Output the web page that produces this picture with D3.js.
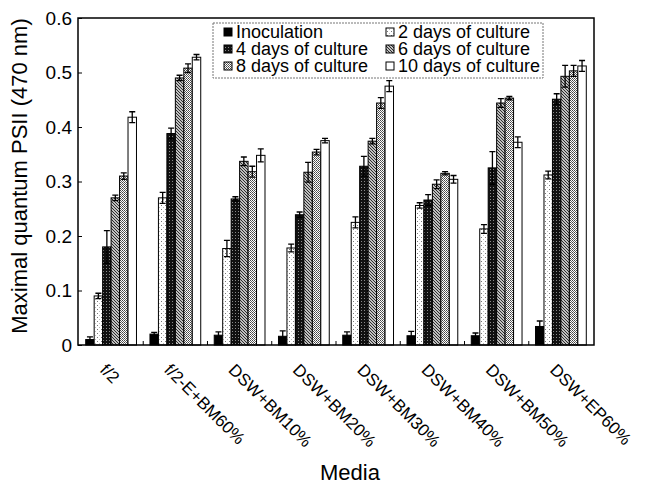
<!DOCTYPE html>
<html>
<head>
<meta charset="utf-8">
<script src="https://cdn.jsdelivr.net/npm/d3@7"></script>
<style>
  html, body { margin: 0; padding: 0; background: #fff; }
  svg { display: block; font-family: "Liberation Sans", Arial, Helvetica, sans-serif; }
</style>
</head>
<body>
<svg id="chart" width="651" height="484"></svg>
<script>
// Culture media (x categories)
const media = ["f/2", "f/2-E+BM60%", "DSW+BM10%", "DSW+BM20%", "DSW+BM30%", "DSW+BM40%", "DSW+BM50%", "DSW+EP60%"];
// Sampling times (series)
const series = ["Inoculation", "2 days of culture", "4 days of culture", "6 days of culture", "8 days of culture", "10 days of culture"];

// Maximal quantum yield of PSII per medium, one array per sampling time
const inoculation = [0.010, 0.020, 0.018, 0.016, 0.018, 0.017, 0.017, 0.034];
const day2        = [0.090, 0.270, 0.177, 0.178, 0.225, 0.256, 0.213, 0.312];
const day4        = [0.180, 0.388, 0.268, 0.239, 0.328, 0.266, 0.325, 0.451];
const day6        = [0.270, 0.490, 0.337, 0.317, 0.374, 0.295, 0.444, 0.493];
const day8        = [0.310, 0.508, 0.318, 0.354, 0.444, 0.315, 0.453, 0.503];
const day10       = [0.418, 0.528, 0.348, 0.375, 0.475, 0.304, 0.372, 0.512];

// Standard deviations
const inoculationErr = [0.005, 0.003, 0.006, 0.010, 0.006, 0.008, 0.005, 0.010];
const day2Err        = [0.005, 0.010, 0.015, 0.007, 0.010, 0.005, 0.008, 0.007];
const day4Err        = [0.030, 0.010, 0.004, 0.005, 0.018, 0.010, 0.030, 0.010];
const day6Err        = [0.005, 0.005, 0.008, 0.018, 0.005, 0.008, 0.008, 0.020];
const day8Err        = [0.006, 0.008, 0.010, 0.005, 0.010, 0.003, 0.003, 0.010];
const day10Err       = [0.010, 0.005, 0.012, 0.004, 0.010, 0.007, 0.010, 0.010];

const yTicks = [0, 0.1, 0.2, 0.3, 0.4, 0.5, 0.6];

const values = [inoculation, day2, day4, day6, day8, day10];
const errors = [inoculationErr, day2Err, day4Err, day6Err, day8Err, day10Err];

const svg = d3.select("#chart");
svg.append("rect").attr("width", 651).attr("height", 484).attr("fill", "#fff");

// ---- fill patterns for the sampling times ----
const defs = svg.append("defs");
function pattern(id, size, build) {
  const p = defs.append("pattern").attr("id", id).attr("patternUnits", "userSpaceOnUse")
    .attr("width", size).attr("height", size);
  build(p);
}
pattern("p-day2", 4, p => {
  p.append("rect").attr("width", 4).attr("height", 4).attr("fill", "#fff");
  p.append("rect").attr("x", 1).attr("y", 1).attr("width", 1).attr("height", 1).attr("fill", "#777");
  p.append("rect").attr("x", 3).attr("y", 3).attr("width", 1).attr("height", 1).attr("fill", "#bbb");
});
pattern("p-day4", 3, p => {
  p.append("rect").attr("width", 3).attr("height", 3).attr("fill", "#111");
  p.append("rect").attr("x", 1).attr("y", 1).attr("width", 1).attr("height", 1).attr("fill", "#8a8a8a");
});
pattern("p-day6", 3, p => {
  p.append("rect").attr("width", 3).attr("height", 3).attr("fill", "#fff");
  p.append("path").attr("d", "M-1,-1 L4,4 M-1,2 L1,4 M2,-1 L4,1").attr("stroke", "#222").attr("stroke-width", 1.1);
});
pattern("p-day8", 2, p => {
  p.append("rect").attr("width", 2).attr("height", 2).attr("fill", "#fff");
  p.append("rect").attr("x", 0).attr("y", 0).attr("width", 1).attr("height", 1).attr("fill", "#444");
  p.append("rect").attr("x", 1).attr("y", 1).attr("width", 1).attr("height", 1).attr("fill", "#666");
});
const fills = ["#000", "url(#p-day2)", "url(#p-day4)", "url(#p-day6)", "url(#p-day8)", "#fff"];

// ---- scales ----
const plot = { left: 78, right: 594, top: 18, bottom: 345 };
const x = d3.scaleBand().domain(media).range([plot.left, plot.right]).paddingInner(0.21).paddingOuter(0.12);
const xs = d3.scaleBand().domain(series).range([0, x.bandwidth()]);
const y = d3.scaleLinear().domain([0, 0.6]).range([plot.bottom, plot.top]);

// ---- bars ----
const rows = [];
media.forEach((m, i) => series.forEach((s, j) => rows.push({ m, s, j, v: values[j][i], e: errors[j][i] })));

svg.append("g").selectAll("rect.bar").data(rows).join("rect")
  .attr("class", "bar")
  .attr("x", d => x(d.m) + xs(d.s))
  .attr("y", d => y(d.v))
  .attr("width", xs.bandwidth())
  .attr("height", d => y(0) - y(d.v))
  .attr("fill", d => fills[d.j])
  .attr("stroke", "#000").attr("stroke-width", 1);

// ---- error bars ----
const eb = svg.append("g").attr("stroke", "#000").attr("stroke-width", 1.3).attr("fill", "none");
const cx = d => x(d.m) + xs(d.s) + xs.bandwidth() / 2;
eb.selectAll("path").data(rows).join("path")
  .attr("d", d => {
    const c = cx(d), t = y(d.v + d.e), b = y(Math.max(d.v - d.e, 0)), w = 3;
    return `M${c},${t}V${b}M${c - w},${t}H${c + w}M${c - w},${b}H${c + w}`;
  });

// ---- frame ----
svg.append("rect").attr("x", plot.left).attr("y", plot.top)
  .attr("width", plot.right - plot.left).attr("height", plot.bottom - plot.top)
  .attr("fill", "none").attr("stroke", "#000").attr("stroke-width", 1.5);

// ---- y axis ----
const yAxis = svg.append("g").attr("transform", `translate(${plot.left},0)`)
  .call(d3.axisLeft(y).tickValues(yTicks).tickSizeInner(-4).tickSizeOuter(0).tickPadding(6)
    .tickFormat(d => d === 0 ? "0" : d3.format(".1f")(d)));
yAxis.select(".domain").remove();
yAxis.selectAll("text").attr("font-size", 19).attr("fill", "#000")
  .attr("font-family", "'Liberation Sans', Arial, sans-serif");

// ---- x axis: separator ticks between media groups, rotated labels ----
const gap = x.step() - x.bandwidth();
svg.append("g").selectAll("line").data(media.slice(1)).join("line")
  .attr("x1", d => x(d) - gap / 2).attr("x2", d => x(d) - gap / 2)
  .attr("y1", plot.bottom).attr("y2", plot.bottom - 4)
  .attr("stroke", "#000").attr("stroke-width", 1);

svg.append("g").selectAll("text").data(media).join("text")
  .attr("transform", d => `translate(${x(d) + x.bandwidth() / 2 - 12},371) rotate(45)`)
  .attr("font-size", 17).attr("fill", "#000")
  .text(d => d);

// ---- axis titles ----
svg.append("text").attr("x", 350).attr("y", 480).attr("text-anchor", "middle")
  .attr("font-size", 22).text("Media");
svg.append("text").attr("transform", "translate(27,176) rotate(-90)").attr("text-anchor", "middle")
  .attr("font-size", 22).text("Maximal quantum PSII (470 nm)");

// ---- legend ----
const lg = svg.append("g");
lg.append("rect").attr("x", 213).attr("y", 23).attr("width", 330).attr("height", 55)
  .attr("fill", "#fff").attr("stroke", "#777").attr("stroke-width", 1).attr("stroke-dasharray", "2,1");
const legendCols = [224, 386];
const legendRows = [38, 55, 72];
series.forEach((s, j) => {
  const col = j % 2, row = Math.floor(j / 2);
  const g = lg.append("g").attr("transform", `translate(${legendCols[col]},${legendRows[row]})`);
  g.append("rect").attr("x", 0).attr("y", -10).attr("width", 8).attr("height", 8)
    .attr("fill", fills[j]).attr("stroke", "#000").attr("stroke-width", 1);
  g.append("text").attr("x", 12).attr("y", 0).attr("font-size", 18).text(s);
});
</script>
</body>
</html>
